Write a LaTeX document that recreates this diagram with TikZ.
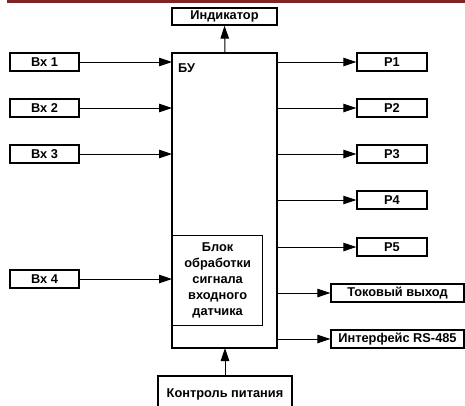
\documentclass[tikz,border=0pt]{standalone}
\usepackage{fontspec}
\setmainfont{Liberation Sans}
\usetikzlibrary{arrows.meta}
\definecolor{barred}{HTML}{7F2424}
\begin{document}
\begin{tikzpicture}[x=1pt,y=-1pt,
  box/.style={draw,line width=1.3pt,inner sep=0pt},
  arr/.style={line width=1pt,-{Triangle[length=13pt,width=8.5pt]}},
  every node/.style={font=\fontsize{12.8}{16}\selectfont\bfseries}]
\useasboundingbox (0,0) rectangle (465,405);
\fill[barred] (7,0) rectangle (465,2.5);
% main block
\draw[line width=1.3pt] (172,53) rectangle (277,348);
\node[anchor=north west,inner sep=0pt] (bu) at (178,63) {БУ};
\coordinate (mainT) at (225,53);
\coordinate (mainB) at (225,348);
% inner block
\node[box,minimum width=90pt,minimum height=90pt,align=center,anchor=north west] (blk) at (172,235)
  {Блок\\обработки\\сигнала\\входного\\датчика};
% indicator
\node[box,minimum width=105pt,minimum height=17pt] (ind) at (224.5,16.5) {Индикатор};
\draw[arr] (mainT) -- (ind.south);
% control
\draw[line width=1.3pt] (158,406) -- (158,376) -- (292,376) -- (292,406);
\node (ctl) at (225,394) {Контроль питания};
\coordinate (ctlT) at (225,376);
\draw[arr] (ctlT) -- (mainB);
% inputs
\foreach \n/\t/\y in {1/Вх 1/62,2/Вх 2/108,3/Вх 3/154,4/Вх 4/279}{
  \node[box,minimum width=69pt,minimum height=18pt] (in\n) at (44.5,\y) {\t};
  \coordinate (inE\n) at (172,\y);
  \draw[arr] (in\n.east) -- (inE\n);
}
% outputs
\foreach \n/\y in {1/62,2/108,3/154,4/200,5/247}{
  \node[box,minimum width=70pt,minimum height=18pt] (p\n) at (392,\y) {P\n};
  \coordinate (pS\n) at (277,\y);
  \draw[arr] (pS\n) -- (p\n.west);
}
\node[box,minimum width=133pt,minimum height=18pt] (tok) at (397.5,293) {Токовый выход};
\coordinate (tokS) at (277,293);
\draw[arr] (tokS) -- (tok.west);
\node[box,minimum width=133pt,minimum height=18pt] (rs) at (397.5,339) {Интерфейс RS-485};
\coordinate (rsS) at (277,339);
\draw[arr] (rsS) -- (rs.west);
\end{tikzpicture}
\end{document}
